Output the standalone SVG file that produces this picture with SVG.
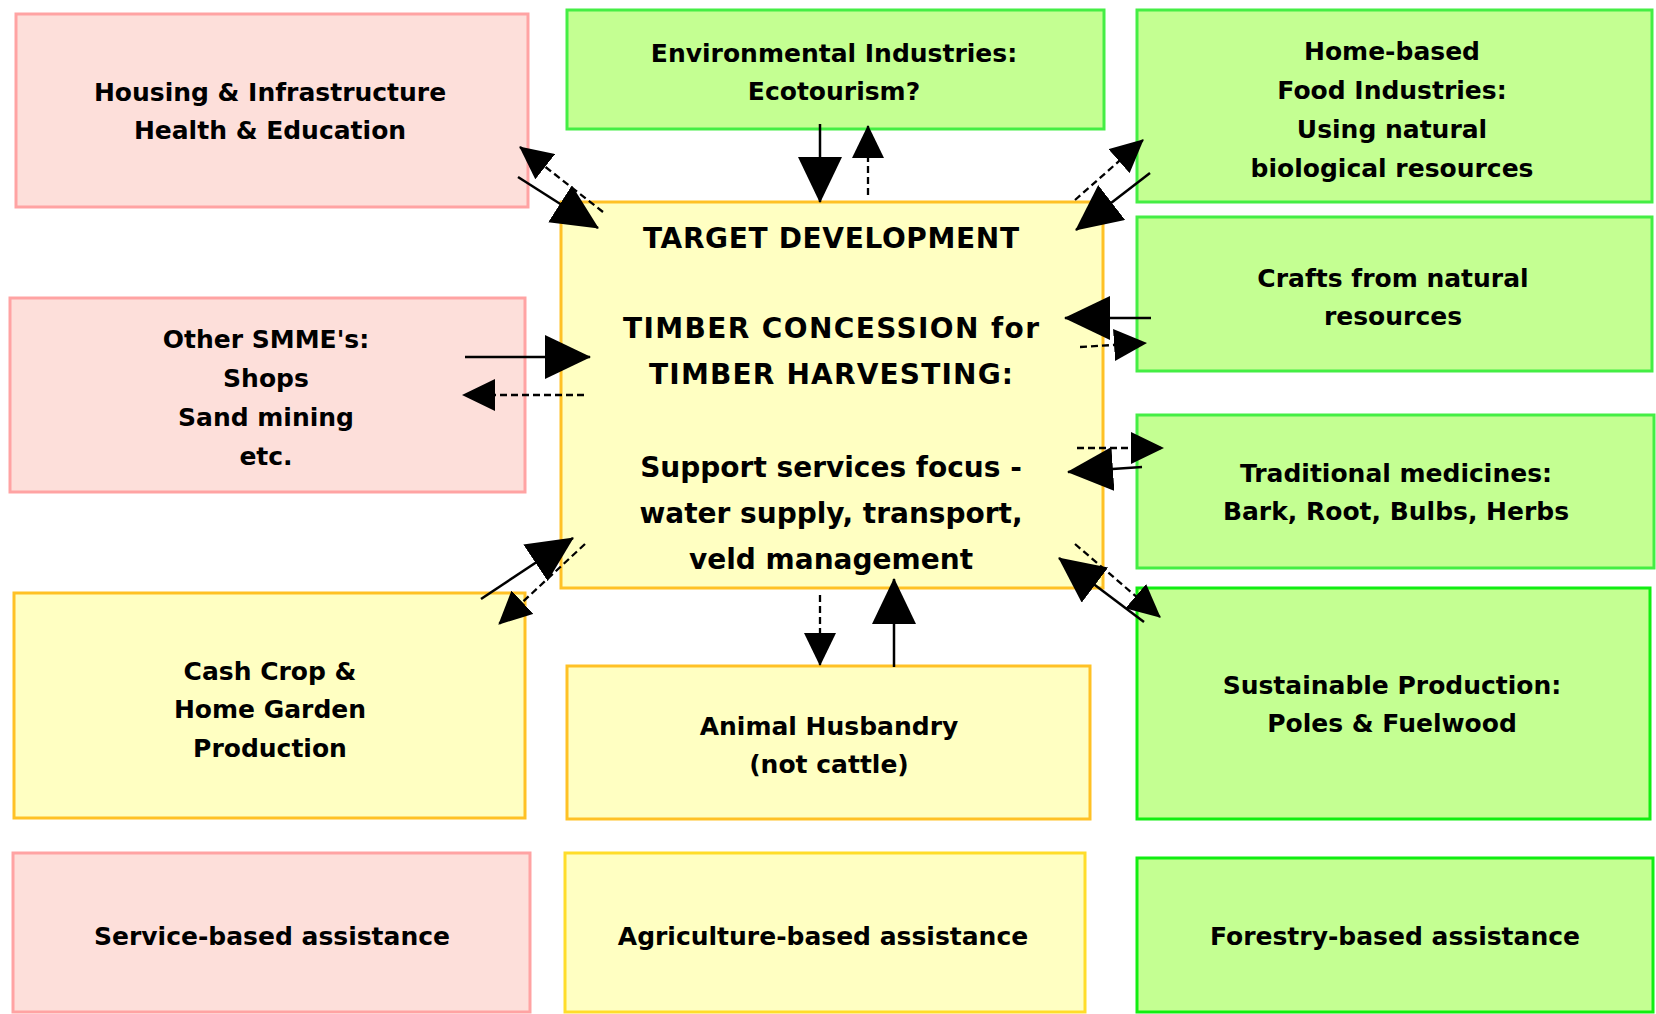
<svg xmlns="http://www.w3.org/2000/svg" width="1656" height="1014" viewBox="0 0 1656 1014">
<style>
  .box { stroke-width: 3; }
  .pink { fill: #FDDFDA; stroke: #FFA3A3; }
  .yellow { fill: #FFFFC2; stroke: #FFC125; }
  .gold { fill: #FFFFC2; stroke: #FFDD2A; }
  .green { fill: #C4FF92; stroke: #44EE44; }
  .green2 { fill: #C4FF92; stroke: #11EE11; }
  text { font-family: "DejaVu Sans", "Liberation Sans", sans-serif; font-weight: bold; font-size: 25px; fill: #000; text-anchor: middle; }
  .big { font-size: 28px; }
  .solid { stroke: #000; stroke-width: 2.5; fill: none; }
  .dash { stroke: #000; stroke-width: 2.3; fill: none; stroke-dasharray: 7 4; }
</style>
<defs>
  <marker id="ahBig" markerUnits="userSpaceOnUse" markerWidth="46" markerHeight="44" viewBox="0 0 46 44" refX="45" refY="22" orient="auto">
    <path d="M0,0 L46,22 L0,44 z" fill="#000"/>
  </marker>
  <marker id="ahSmall" markerUnits="userSpaceOnUse" markerWidth="33" markerHeight="32" viewBox="0 0 33 32" refX="32" refY="16" orient="auto">
    <path d="M0,0 L33,16 L0,32 z" fill="#000"/>
  </marker>
</defs>

<g id="housing">
  <rect class="box pink" x="16" y="14" width="512" height="193"/>
  <text x="270" y="101">Housing &amp; Infrastructure</text>
  <text x="270" y="139">Health &amp; Education</text>
</g>
<g id="environmental">
  <rect class="box green" x="567" y="10" width="537" height="119"/>
  <text x="834" y="62">Environmental Industries:</text>
  <text x="834" y="100">Ecotourism?</text>
</g>
<g id="homebased">
  <rect class="box green" x="1137" y="10" width="515" height="192"/>
  <text x="1392" y="60">Home-based</text>
  <text x="1392" y="99">Food Industries:</text>
  <text x="1392" y="138">Using natural</text>
  <text x="1392" y="177">biological resources</text>
</g>
<g id="crafts">
  <rect class="box green" x="1137" y="217" width="515" height="154"/>
  <text x="1393" y="287">Crafts from natural</text>
  <text x="1393" y="325">resources</text>
</g>
<g id="smme">
  <rect class="box pink" x="10" y="298" width="515" height="194"/>
  <text x="266" y="348">Other SMME's:</text>
  <text x="266" y="387">Shops</text>
  <text x="266" y="426">Sand mining</text>
  <text x="266" y="465">etc.</text>
</g>
<g id="central">
  <rect class="box yellow" x="561" y="202" width="542" height="386"/>
  <text class="big" x="831" y="248" textLength="376" lengthAdjust="spacing">TARGET DEVELOPMENT</text>
  <text class="big" x="831" y="338" textLength="416" lengthAdjust="spacing">TIMBER CONCESSION for</text>
  <text class="big" x="831" y="384" textLength="364" lengthAdjust="spacing">TIMBER HARVESTING:</text>
  <text class="big" x="831" y="477">Support services focus -</text>
  <text class="big" x="831" y="523">water supply, transport,</text>
  <text class="big" x="831" y="569">veld management</text>
</g>
<g id="traditional">
  <rect class="box green" x="1137" y="415" width="517" height="153"/>
  <text x="1396" y="482">Traditional medicines:</text>
  <text x="1396" y="520">Bark, Root, Bulbs, Herbs</text>
</g>
<g id="cashcrop">
  <rect class="box yellow" x="14" y="593" width="511" height="225"/>
  <text x="270" y="680">Cash Crop &amp;</text>
  <text x="270" y="718">Home Garden</text>
  <text x="270" y="757">Production</text>
</g>
<g id="animal">
  <rect class="box yellow" x="567" y="666" width="523" height="153"/>
  <text x="829" y="735">Animal Husbandry</text>
  <text x="829" y="773">(not cattle)</text>
</g>
<g id="sustainable">
  <rect class="box green2" x="1137" y="588" width="513" height="231"/>
  <text x="1392" y="694">Sustainable Production:</text>
  <text x="1392" y="732">Poles &amp; Fuelwood</text>
</g>
<g id="service">
  <rect class="box pink" x="13" y="853" width="517" height="159"/>
  <text x="272" y="945">Service-based assistance</text>
</g>
<g id="agriculture">
  <rect class="box gold" x="565" y="853" width="520" height="159"/>
  <text x="823" y="945">Agriculture-based assistance</text>
</g>
<g id="forestry">
  <rect class="box green2" x="1137" y="858" width="516" height="154"/>
  <text x="1395" y="945">Forestry-based assistance</text>
</g>

<g id="connectors">
  <line class="solid" x1="518" y1="177" x2="598" y2="228" marker-end="url(#ahBig)"/>
  <line class="dash" x1="603" y1="212" x2="520" y2="147" marker-end="url(#ahSmall)"/>
  <line class="solid" x1="820" y1="124" x2="820" y2="202" marker-end="url(#ahBig)"/>
  <line class="dash" x1="868" y1="195" x2="868" y2="126" marker-end="url(#ahSmall)"/>
  <line class="dash" x1="1075" y1="200" x2="1143" y2="140" marker-end="url(#ahSmall)"/>
  <line class="solid" x1="1150" y1="173" x2="1076" y2="230" marker-end="url(#ahBig)"/>
  <line class="solid" x1="1151" y1="318" x2="1065" y2="318" marker-end="url(#ahBig)"/>
  <line class="dash" x1="1080" y1="347" x2="1146" y2="343" marker-end="url(#ahSmall)"/>
  <line class="dash" x1="1077" y1="448" x2="1163" y2="448" marker-end="url(#ahSmall)"/>
  <line class="solid" x1="1142" y1="467" x2="1068" y2="472" marker-end="url(#ahBig)"/>
  <line class="dash" x1="1075" y1="544" x2="1160" y2="617" marker-end="url(#ahSmall)"/>
  <line class="solid" x1="1144" y1="622" x2="1059" y2="558" marker-end="url(#ahBig)"/>
  <line class="dash" x1="820" y1="595" x2="820" y2="665" marker-end="url(#ahSmall)"/>
  <line class="solid" x1="894" y1="667" x2="894" y2="579" marker-end="url(#ahBig)"/>
  <line class="solid" x1="481" y1="599" x2="573" y2="538" marker-end="url(#ahBig)"/>
  <line class="dash" x1="585" y1="544" x2="499" y2="624" marker-end="url(#ahSmall)"/>
  <line class="solid" x1="465" y1="357" x2="590" y2="357" marker-end="url(#ahBig)"/>
  <line class="dash" x1="584" y1="395" x2="463" y2="395" marker-end="url(#ahSmall)"/>
</g>
</svg>
